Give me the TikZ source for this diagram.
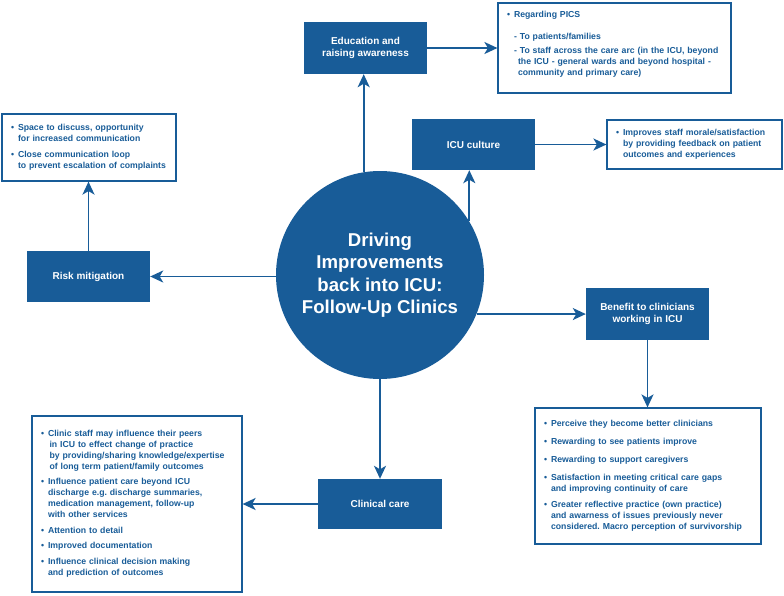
\documentclass[tikz,border=0pt]{standalone}
\usepackage{fontspec}
\setmainfont{Liberation Sans}
\usetikzlibrary{arrows.meta}
\definecolor{mainblue}{RGB}{24,92,152}
\newcommand{\mybl}[1]{\begin{tabular}{@{}l@{\hspace{4pt}}l@{}}#1\end{tabular}}
\frenchspacing
\begin{document}
\begin{tikzpicture}[x=1pt,y=-1pt,
  darkbox/.style={draw=none, fill=mainblue, text=white, font=\bfseries\fontsize{10}{12}\selectfont, align=center, inner sep=0pt, minimum width=123pt},
  txtbox/.style={draw=mainblue, line width=1.2pt, fill=white, text=mainblue, font=\bfseries\fontsize{8.7}{10.8}\selectfont, align=left, inner xsep=9pt, inner ysep=0pt},
  arr/.style={draw=mainblue, line width=1.8pt, -{Stealth[length=13pt,width=12pt,inset=3.5pt]}},
  hub/.style={circle, fill=mainblue, minimum size=208pt, inner sep=0pt, text=white, font=\bfseries\fontsize{18.6}{22.5}\selectfont, align=center}
]
\useasboundingbox (0,0) rectangle (784,595);

% hub
\node[hub] (circ) at (380,275) {Driving\\Improvements\\back into ICU:\\Follow-Up Clinics};

% dark boxes
\node[darkbox, minimum height=52pt] (edu) at (365.5,48) {Education and\\raising awareness};
\node[darkbox, minimum height=51pt] (icu) at (473.5,144.5) {ICU culture};
\node[darkbox, minimum height=51pt] (risk) at (88.5,276.5) {Risk mitigation};
\node[darkbox, minimum height=52pt] (ben) at (647.5,314) {Benefit to clinicians\\working in ICU};
\node[darkbox, minimum height=50pt, minimum width=124pt] (clin) at (380,504) {Clinical care};

% text boxes
\node[txtbox, text width=156pt, minimum height=67pt] (risktxt) at (89,147.5) {\mybl{%
\textbullet & Space to discuss, opportunity\\
 & for increased communication\\[5pt]
\textbullet & Close communication loop\\
 & to prevent escalation of complaints}};

\node[txtbox, text width=215pt, minimum height=90pt, inner xsep=9pt] (pics) at (614.5,48) {\mybl{%
\textbullet & Regarding PICS\\[11pt]
 & - To patients/families\\[3.5pt]
 & - To staff across the care arc (in the ICU, beyond\\
 & \hspace{4pt}the ICU - general wards and beyond hospital -\\
 & \hspace{4pt}community and primary care)\\[8pt]}};

\node[txtbox, text width=157pt, minimum height=49pt] (icutxt) at (694.5,144.5) {\mybl{%
\textbullet & Improves staff morale/satisfaction\\
 & by providing feedback on patient\\
 & outcomes and experiences}};

\node[txtbox, text width=208pt, minimum height=136pt] (bentxt) at (648,476) {\mybl{%
\textbullet & Perceive they become better clinicians\\[7pt]
\textbullet & Rewarding to see patients improve\\[7pt]
\textbullet & Rewarding to support caregivers\\[7pt]
\textbullet & Satisfaction in meeting critical care gaps\\
 & and improving continuity of care\\[6pt]
\textbullet & Greater reflective practice (own practice)\\
 & and awarness of issues previously never\\
 & considered. Macro perception of survivorship}};

\node[txtbox, text width=192pt, minimum height=176pt] (clintxt) at (137,504) {\mybl{%
\textbullet & Clinic staff may influence their peers\\
 & \hspace{1.5pt}in ICU to effect change of practice\\
 & \hspace{1.5pt}by providing/sharing knowledge/expertise\\
 & \hspace{1.5pt}of long term patient/family outcomes\\[5pt]
\textbullet & Influence patient care beyond ICU\\
 & discharge e.g. discharge summaries,\\
 & medication management, follow-up\\
 & with other services\\[5pt]
\textbullet & Attention to detail\\[5pt]
\textbullet & Improved documentation\\[5pt]
\textbullet & Influence clinical decision making\\
 & and prediction of outcomes}};

% connectors
\draw[arr] (circ.99) -- (circ.99 |- edu.south);
\draw[arr] (pics.west -| edu.east) -- (pics.west);
\draw[arr] (circ.31) -- (circ.31 |- icu.south);
\draw[arr] (icu.east) -- (icu.east -| icutxt.west);
\draw[arr] (risk.east -| circ.west) -- (risk.east);
\draw[arr] (risk.north) -- (risk.north |- risktxt.south);
\draw[arr] (circ.-22) -- (circ.-22 -| ben.west);
\draw[arr] (ben.south) -- (ben.south |- bentxt.north);
\draw[arr] (circ.south) -- (clin.north);
\draw[arr] (clin.west) -- (clin.west -| clintxt.east);
\end{tikzpicture}
\end{document}
